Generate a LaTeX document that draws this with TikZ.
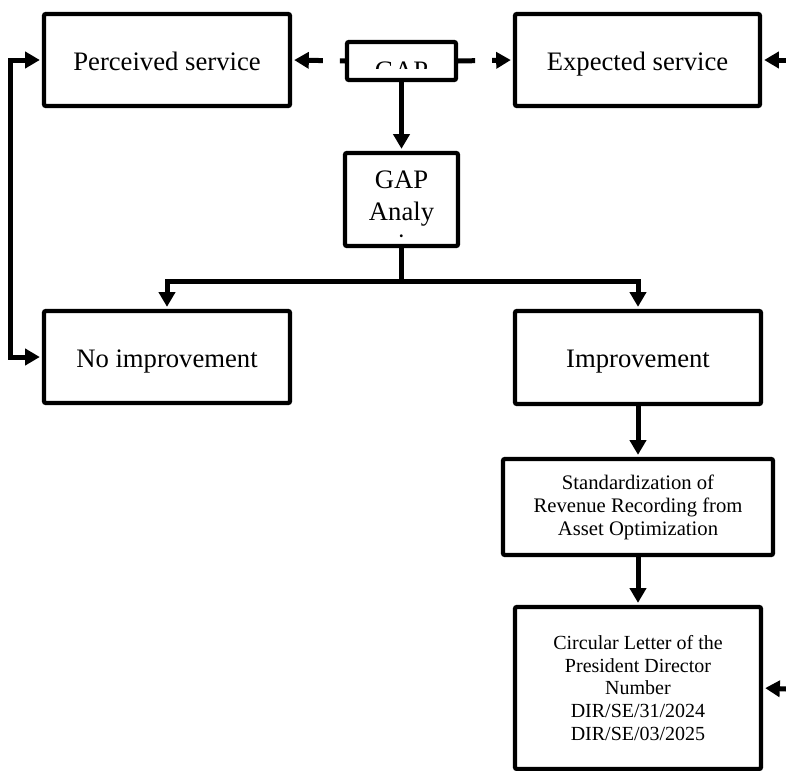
\documentclass[tikz,border=0pt]{standalone}
\usepackage{fontspec}
\setmainfont{Liberation Serif}
\usetikzlibrary{arrows.meta}

\tikzset{every picture/.style={line width=0.75pt}}
\tikzset{
  flowbox/.style={draw, line width=3.25pt, rounded corners=1.5pt, inner sep=0pt, align=center, font=\fontsize{20}{24}\selectfont},
  oneline/.style={text height=15pt, text depth=0pt},
  flowtext/.style={inner sep=0pt, align=center, font=\fontsize{20}{24}\selectfont},
  flowarrow/.style={line width=3.75pt, -{Triangle[length=11pt,width=12pt]}, shorten >=1.5pt},
  flowboth/.style={line width=3.75pt, {Triangle[length=11pt,width=12pt]}-{Triangle[length=11pt,width=12pt]}, shorten >=1.5pt, shorten <=1.5pt},
}

\begin{document}
\begin{tikzpicture}[x=0.75pt,y=0.75pt,yscale=-1,xscale=1]
\useasboundingbox (0,0) rectangle (786,771);

%Shape: Rectangle [id:perceived]
\node[flowbox, oneline, minimum width=184.5pt, minimum height=69pt] (perc) at (167,60) {Perceived service};
%Shape: Rectangle [id:gap]
\node[flowbox, minimum width=81.75pt, minimum height=28.5pt] (gap) at (401.5,61) {};
%Shape: Rectangle [id:expected]
\node[flowbox, oneline, minimum width=183.75pt, minimum height=69pt] (expect) at (637.5,60) {Expected service};
%Shape: Rectangle [id:gapanalysis]
\node[flowbox, minimum width=84.75pt, minimum height=69.75pt] (gapa) at (401.5,199.5) {};
%Shape: Rectangle [id:noimprovement]
\node[flowbox, oneline, minimum width=184.5pt, minimum height=69pt] (noimp) at (167,357) {No improvement};
%Shape: Rectangle [id:improvement]
\node[flowbox, oneline, minimum width=184.5pt, minimum height=69.75pt] (improve) at (638,357.5) {Improvement};
%Shape: Rectangle [id:standard]
\node[flowbox, minimum width=202.5pt, minimum height=72pt, font=\fontsize{15.5}{17.25}\selectfont] (std) at (638,507) {Standardization of\\Revenue Recording from\\Asset Optimization};
%Shape: Rectangle [id:circular]
\node[flowbox, minimum width=184.5pt, minimum height=121.5pt, font=\fontsize{15}{17}\selectfont] (circ) at (638,688) {Circular Letter of the\\President Director\\Number\\DIR/SE/31/2024\\DIR/SE/03/2025};

% Text Node (cut by its box)
\begin{scope}
\clip (347,42) rectangle (456,68);
\node[flowtext, anchor=base] (gaptext) at (401.5,79) {GAP};
\end{scope}
% Text Node (cut by its box)
\begin{scope}
\clip (347,155) rectangle (456,237);
\node[flowtext, anchor=base] (gapatext) at (401.5,252) {GAP\\Analy\\sis};
\end{scope}

%Straight Lines
\draw[flowarrow, dash pattern=on 3.75pt off 12.75pt on 60pt] (gap.west) -- (perc.east);
\draw[flowarrow, dash pattern=on 12.75pt off 12.75pt on 60pt] (gap.east) -- (expect.west);
\draw[flowarrow] (gap.south) -- (gapa.north);
\draw[flowarrow] (gapa.south) -- ++(0,33) -| (noimp.north);
\draw[flowarrow] (gapa.south) -- ++(0,33) -| (improve.north);
\draw[flowboth] (perc.west) -- ++(-31,0) |- (noimp.west);
\draw[flowarrow] (improve.south) -- (std.north);
\draw[flowarrow] (std.south) -- (circ.north);
%Free ends
\coordinate (expin) at (786,60);
\coordinate (circin) at (786,689);
\draw[flowarrow] (expin) -- (expect.east);
\draw[flowarrow] (circin) -- (circ.east);

\end{tikzpicture}
\end{document}
